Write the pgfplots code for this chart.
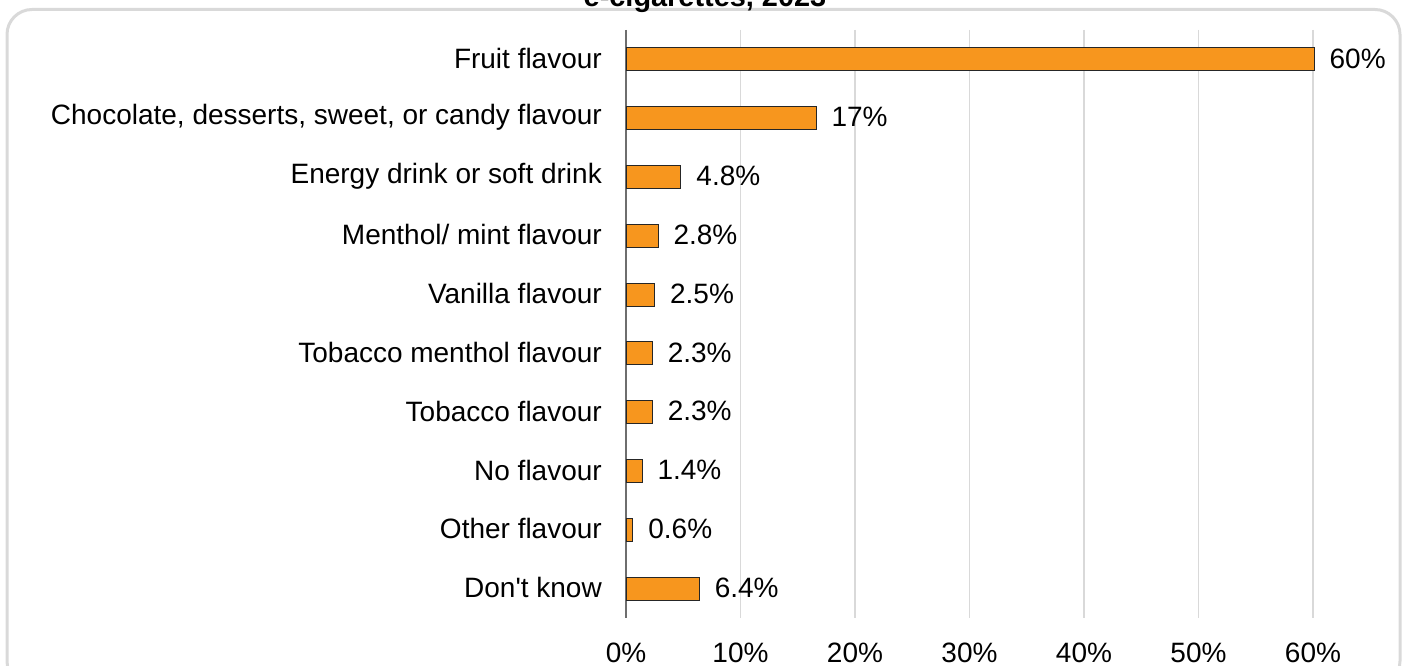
\documentclass[border=0pt]{standalone}
\usepackage{pgfplots}
\pgfplotsset{compat=1.18}
\usepackage{fontspec}
\setmainfont{Liberation Sans}
\definecolor{barorange}{RGB}{247,150,30}
\definecolor{framegray}{RGB}{217,217,217}
\definecolor{gridgray}{RGB}{217,217,217}
\definecolor{axisgray}{RGB}{110,110,110}
\newcommand{\lbl}{\fontsize{28.1pt}{33pt}\selectfont}
\begin{document}
\begin{tikzpicture}
\useasboundingbox (0bp,0bp) rectangle (1405bp,666bp);
\draw[line width=3bp, color=framegray, rounded corners=25bp] (7bp,-20bp) rectangle (1400bp,656.5bp);
\node[font=\fontsize{29pt}{34pt}\selectfont\bfseries, anchor=base, inner sep=0pt] at (705bp,659bp) {e-cigarettes, 2023};
\begin{axis}[
  at={(626bp,48bp)}, anchor=south west,
  width=687bp, height=588bp, scale only axis,
  xbar, bar width=23bp,
  xmin=0, xmax=60, ymin=-0.5, ymax=9.5,
  y dir=reverse,
  axis lines*=left,
  x axis line style={draw=none},
  y axis line style={draw=axisgray, line width=1.5bp},
  xmajorgrids, grid style={draw=gridgray, line width=1.5bp},
  major tick length=0pt,
  xtick={0,10,20,30,40,50,60},
  xticklabels={0\%,10\%,20\%,30\%,40\%,50\%,60\%},
  ytick={0,1,2,3,4,5,6,7,8,9},
  yticklabels={Fruit flavour,{Chocolate, desserts, sweet, or candy flavour},Energy drink or soft drink,Menthol/ mint flavour,Vanilla flavour,Tobacco menthol flavour,Tobacco flavour,No flavour,Other flavour,Don\textquotesingle t know},
  xticklabel style={font=\lbl, inner sep=0pt, anchor=base, yshift=-44bp},
  yticklabel style={font=\lbl, inner sep=0pt, anchor=east, xshift=-24bp, yshift=1bp},
  nodes near coords,
  point meta=explicit symbolic,
  nodes near coords style={font=\lbl, inner sep=0pt, anchor=west, xshift=15bp, yshift=1bp},
  clip=false,
]
\addplot[fill=barorange, draw=black!85, line width=1bp] coordinates {
(60.1,0) [60\%]
(16.6,1) [17\%]
(4.8,2) [4.8\%]
(2.8,3) [2.8\%]
(2.5,4) [2.5\%]
(2.3,5) [2.3\%]
(2.3,6) [2.3\%]
(1.4,7) [1.4\%]
(0.6,8) [0.6\%]
(6.4,9) [6.4\%]
};
\end{axis}
\end{tikzpicture}
\end{document}
